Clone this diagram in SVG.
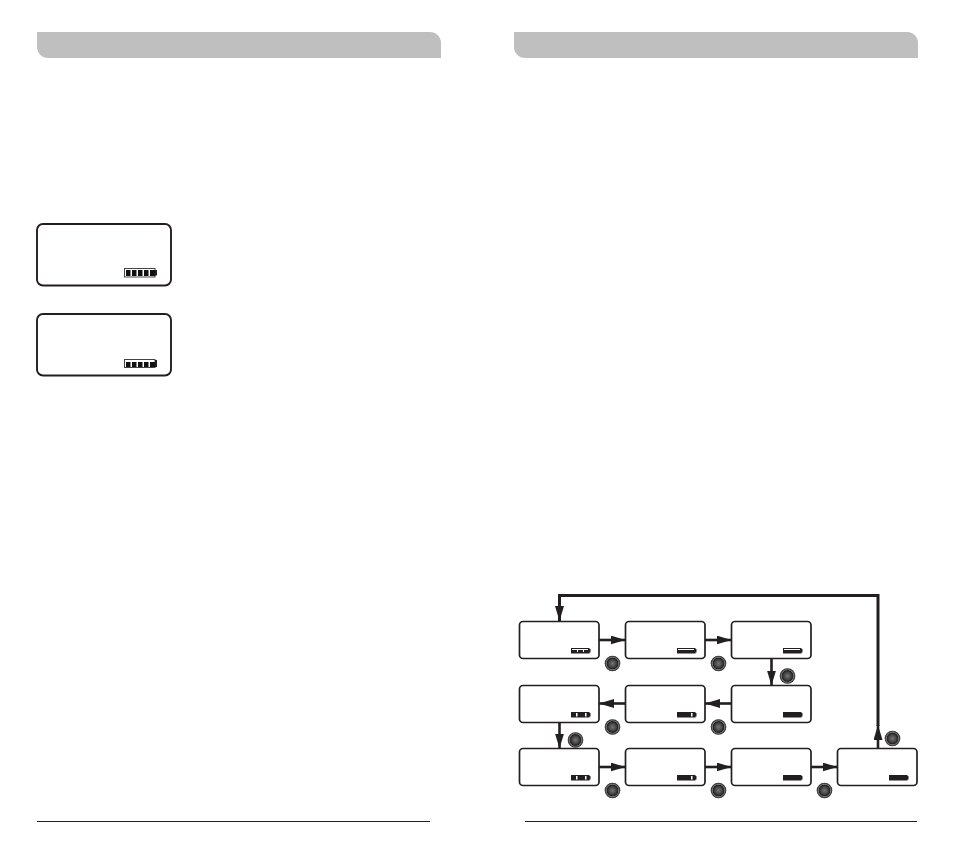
<svg xmlns="http://www.w3.org/2000/svg" width="954" height="848" viewBox="0 0 954 848">
<defs>
<style>
.hdr{fill:#bfbfbf}
.rule{stroke:#231f20;stroke-width:1;fill:none}
.big{fill:#fff;stroke:#231f20;stroke-width:1.9}
.small{fill:#fff;stroke:#231f20;stroke-width:1.7}
.conn{stroke:#231f20;stroke-width:2.6;fill:none}
.loop{stroke:#231f20;stroke-width:3;fill:none}
.bat{fill:#231f20}
.seg{fill:#fff}
.cell{fill:#111}
.shell{fill:#fff;stroke:#444;stroke-width:1}
</style>
<radialGradient id="knob"><stop offset="0" stop-color="#767676"/><stop offset="0.5" stop-color="#404040"/><stop offset="0.7" stop-color="#1f1f1f"/><stop offset="0.78" stop-color="#777"/><stop offset="0.88" stop-color="#4a4a4a"/><stop offset="1" stop-color="#1c1c1c"/></radialGradient>
<marker id="ah" markerUnits="userSpaceOnUse" markerWidth="16" markerHeight="10" refX="15" refY="4.5" orient="auto"><path d="M0 0L15 4.5L0 9Z" fill="#231f20"/></marker>
<g id="k"><circle r="7.8" fill="url(#knob)"/></g>
</defs>
<path class="hdr" d="M37 32H430a11 11 0 0 1 11 11V58H48a11 11 0 0 1-11-11Z"/>
<path class="hdr" d="M514 32H907a11 11 0 0 1 11 11V58H525a11 11 0 0 1-11-11Z"/>
<line class="rule" x1="37" y1="821.500" x2="430" y2="821.500"/>
<line class="rule" x1="525" y1="821.500" x2="917" y2="821.500"/>
<g id="display1"><rect class="big" x="37" y="224" width="134" height="61.500" rx="6"/><rect class="shell" x="124.500" y="268.500" width="30.500" height="8.500"/><rect class="bat" x="155" y="270" width="2" height="5.500"/><rect class="cell" x="126" y="270" width="4.500" height="6"/><rect class="cell" x="132" y="270" width="4.500" height="6"/><rect class="cell" x="138" y="270" width="4.500" height="6"/><rect class="cell" x="144" y="270" width="4.500" height="6"/><rect class="cell" x="150" y="270" width="5" height="6"/></g>
<g id="display2"><rect class="big" x="37" y="314" width="134" height="61.500" rx="6"/><rect class="shell" x="124.500" y="359.500" width="30.500" height="8"/><rect class="bat" x="155" y="360" width="2" height="7"/><rect class="cell" x="126" y="362" width="4.500" height="5"/><rect class="cell" x="132" y="362" width="4.500" height="5"/><rect class="cell" x="138" y="362" width="4.500" height="5"/><rect class="cell" x="144" y="362" width="4.500" height="5"/><rect class="cell" x="150" y="362" width="5" height="5"/></g>
<g id="connectors">
<path class="loop" marker-end="url(#ah)" d="M878 726V595.500H559.500V621"/>
<path class="conn" marker-end="url(#ah)" d="M878 748V725"/>
<path class="conn" marker-end="url(#ah)" d="M599 640H625.500"/>
<path class="conn" marker-end="url(#ah)" d="M705 640H731.500"/>
<path class="conn" marker-end="url(#ah)" d="M771.500 659V685.500"/>
<path class="conn" marker-end="url(#ah)" d="M731.500 703.500H705"/>
<path class="conn" marker-end="url(#ah)" d="M625.500 703.500H599"/>
<path class="conn" marker-end="url(#ah)" d="M559.500 722V748.500"/>
<path class="conn" marker-end="url(#ah)" d="M599 767H625.500"/>
<path class="conn" marker-end="url(#ah)" d="M705 767H731.500"/>
<path class="conn" marker-end="url(#ah)" d="M811 767H837.500"/>
</g>
<g id="n1"><rect class="small" x="519.500" y="621.500" width="79.500" height="37" rx="3.500"/><rect class="bat" x="571" y="648" width="18.500" height="5.500"/><rect class="bat" x="589" y="649" width="1.500" height="3.500"/><rect class="seg" x="572" y="649" width="16" height="1"/><rect class="seg" x="577" y="650" width="1" height="2"/><rect class="seg" x="583" y="650" width="1" height="2"/></g>
<g id="n2"><rect class="small" x="625.500" y="621.500" width="79.500" height="37" rx="3.500"/><rect class="bat" x="677" y="648" width="18.500" height="5.500"/><rect class="bat" x="695" y="649" width="1.500" height="3.500"/><rect class="seg" x="678" y="649" width="16" height="1"/></g>
<g id="n3"><rect class="small" x="731.500" y="621.500" width="79.500" height="37" rx="3.500"/><rect class="bat" x="783" y="648" width="18.500" height="5.500"/><rect class="bat" x="801" y="649" width="1.500" height="3.500"/><rect class="seg" x="784" y="649" width="16" height="1"/></g>
<g id="n4"><rect class="small" x="519.500" y="685.500" width="79.500" height="37" rx="3.500"/><rect class="bat" x="571" y="712" width="18.500" height="5.500"/><rect class="bat" x="589" y="713" width="1.500" height="3.500"/><rect class="seg" x="576" y="713" width="1.500" height="3.500"/><rect class="seg" x="585" y="713" width="1.500" height="3.500"/></g>
<g id="n5"><rect class="small" x="625.500" y="685.500" width="79.500" height="37" rx="3.500"/><rect class="bat" x="677" y="712" width="18.500" height="5.500"/><rect class="bat" x="695" y="713" width="1.500" height="3.500"/><rect class="seg" x="691" y="713" width="1.500" height="3.500"/></g>
<g id="n6"><rect class="small" x="731.500" y="685.500" width="79.500" height="37" rx="3.500"/><rect class="bat" x="783" y="712" width="18.500" height="5.500"/><rect class="bat" x="801" y="713" width="1.500" height="3.500"/></g>
<g id="n7"><rect class="small" x="519.500" y="748.500" width="79.500" height="37" rx="3.500"/><rect class="bat" x="571" y="775" width="18.500" height="5.500"/><rect class="bat" x="589" y="776" width="1.500" height="3.500"/><rect class="seg" x="576" y="776" width="1.500" height="3.500"/><rect class="seg" x="585" y="776" width="1.500" height="3.500"/></g>
<g id="n8"><rect class="small" x="625.500" y="748.500" width="79.500" height="37" rx="3.500"/><rect class="bat" x="677" y="775" width="18.500" height="5.500"/><rect class="bat" x="695" y="776" width="1.500" height="3.500"/><rect class="seg" x="691" y="776" width="1.500" height="3.500"/></g>
<g id="n9"><rect class="small" x="731.500" y="748.500" width="79.500" height="37" rx="3.500"/><rect class="bat" x="783" y="775" width="18.500" height="5.500"/><rect class="bat" x="801" y="776" width="1.500" height="3.500"/></g>
<g id="n10"><rect class="small" x="837.500" y="748.500" width="79.500" height="37" rx="3.500"/><rect class="bat" x="889" y="775" width="18.500" height="5.500"/><rect class="bat" x="907" y="776" width="1.500" height="3.500"/></g>
<g id="knobs">
<use href="#k" x="612.500" y="663.500"/><use href="#k" x="718.500" y="663.500"/><use href="#k" x="787.500" y="676"/>
<use href="#k" x="612.500" y="727"/><use href="#k" x="718.500" y="727"/><use href="#k" x="575.500" y="740"/>
<use href="#k" x="612.500" y="790.500"/><use href="#k" x="718.500" y="790.500"/><use href="#k" x="824.500" y="790.500"/><use href="#k" x="892.500" y="738.500"/>
</g>
</svg>
